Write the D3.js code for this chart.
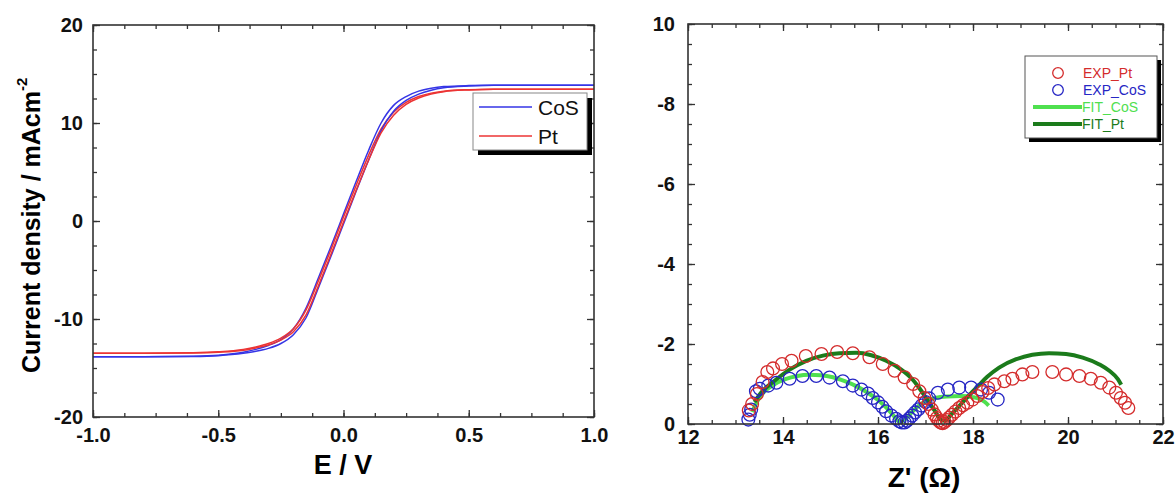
<!DOCTYPE html>
<html>
<head>
<meta charset="utf-8">
<script src="https://cdn.jsdelivr.net/npm/d3@7"></script>
<style>
body { margin: 0; background: #fff; }
svg { display: block; font-family: "Liberation Sans", Arial, sans-serif; }
.tk text { font-size: 20px; font-weight: bold; fill: #111; }
.tk path { display: none; }
.tk line { stroke: #333; stroke-width: 1.3; }
</style>
</head>
<body>
<svg id="chart" width="1176" height="495"></svg>
<script>
// ---- left panel: current density vs potential ----
const ePts = [-1.0, -0.8, -0.6, -0.5, -0.4, -0.35, -0.3, -0.25, -0.2, -0.15, -0.1, -0.05, 0, 0.05, 0.1, 0.15, 0.2, 0.25, 0.3, 0.35, 0.4, 0.5, 0.6, 0.8, 1.0]
const cosA = [-13.85, -13.85, -13.8, -13.7, -13.4, -13.1, -12.7, -12.1, -11.0, -8.9, -5.8, -2.6, 0.7, 4.0, 7.2, 10.0, 11.8, 12.7, 13.25, 13.55, 13.72, 13.82, 13.85, 13.85, 13.85]
const cosB = [-13.85, -13.85, -13.82, -13.74, -13.5, -13.3, -13.0, -12.5, -11.6, -9.9, -6.8, -3.6, -0.3, 3.0, 6.2, 9.2, 11.2, 12.3, 12.95, 13.35, 13.6, 13.78, 13.85, 13.85, 13.85]
const ptA = [-13.5, -13.5, -13.45, -13.35, -13.1, -12.85, -12.5, -11.95, -11.0, -9.1, -6.1, -2.9, 0.4, 3.6, 6.7, 9.4, 11.1, 12.1, 12.7, 13.05, 13.25, 13.4, 13.45, 13.45, 13.45]
const ptB = [-13.5, -13.5, -13.47, -13.4, -13.2, -12.95, -12.65, -12.15, -11.3, -9.6, -6.6, -3.4, -0.1, 3.1, 6.2, 9.0, 10.8, 11.9, 12.55, 12.95, 13.2, 13.38, 13.45, 13.45, 13.45]
const eMajor = [-1.0, -0.5, 0, 0.5, 1.0]
const jMajor = [-20, -10, 0, 10, 20]

// ---- right panel: Nyquist plot [Z', -Z''] ----
const expPt = [[13.28,0.34],[13.35,0.50],[13.45,0.75],[13.57,1.05],[13.67,1.30],[13.79,1.39],[13.98,1.50],[14.18,1.58],[14.48,1.70],[14.81,1.75],[15.14,1.80],[15.47,1.77],[15.82,1.67],[16.10,1.50],[16.35,1.33],[16.56,1.17],[16.74,1.00],[16.87,0.82],[16.98,0.65],[17.06,0.50],[17.13,0.36],[17.19,0.24],[17.24,0.15],[17.28,0.08],[17.32,0.04],[17.36,0.02],[17.40,0.05],[17.45,0.10],[17.50,0.16],[17.56,0.23],[17.63,0.31],[17.71,0.40],[17.79,0.47],[17.88,0.53],[17.99,0.61],[18.09,0.70],[18.20,0.80],[18.32,0.90],[18.45,0.99],[18.66,1.07],[18.83,1.13],[19.04,1.24],[19.25,1.30],[19.67,1.30],[19.96,1.24],[20.24,1.20],[20.48,1.13],[20.69,1.03],[20.87,0.91],[21.01,0.78],[21.11,0.65],[21.20,0.53],[21.27,0.40]]
const expCoS = [[13.27,0.11],[13.30,0.23],[13.33,0.36],[13.43,0.82],[13.51,0.88],[13.69,0.96],[13.86,1.03],[14.14,1.13],[14.41,1.20],[14.70,1.20],[14.98,1.16],[15.26,1.07],[15.47,0.96],[15.65,0.86],[15.79,0.76],[15.89,0.65],[16.00,0.54],[16.09,0.43],[16.17,0.32],[16.28,0.21],[16.38,0.13],[16.45,0.07],[16.50,0.04],[16.56,0.04],[16.61,0.08],[16.66,0.14],[16.72,0.21],[16.78,0.29],[16.85,0.37],[16.92,0.46],[17.00,0.55],[17.08,0.64],[17.26,0.78],[17.47,0.86],[17.71,0.91],[17.96,0.91],[18.17,0.86],[18.34,0.78],[18.52,0.61]]
const fitCoS = [[13.35,0.30],[13.45,0.55],[13.60,0.80],[13.80,0.98],[14.05,1.12],[14.30,1.20],[14.55,1.23],[14.80,1.22],[15.05,1.17],[15.30,1.07],[15.55,0.94],[15.80,0.77],[16.00,0.60],[16.20,0.38],[16.35,0.18],[16.45,0.06],[16.55,0.10],[16.70,0.28],[16.85,0.45],[17.00,0.57],[17.20,0.65],[17.45,0.69],[17.75,0.70],[18.00,0.67],[18.15,0.62],[18.25,0.55],[18.33,0.46]]
const fitPt = [[13.40,0.55],[13.55,0.80],[13.79,1.05],[14.14,1.36],[14.49,1.58],[14.84,1.71],[15.19,1.77],[15.54,1.78],[15.86,1.72],[16.17,1.58],[16.49,1.36],[16.70,1.15],[16.87,0.90],[17.05,0.58],[17.20,0.32],[17.33,0.10],[17.40,0.08],[17.55,0.25],[17.75,0.50],[17.95,0.76],[18.13,0.98],[18.30,1.18],[18.55,1.41],[18.91,1.62],[19.25,1.73],[19.60,1.77],[19.96,1.75],[20.31,1.66],[20.66,1.49],[20.87,1.33],[21.05,1.12],[21.12,0.98]]
const zMajor = [12, 14, 16, 18, 20, 22]
const zImMajor = [0, 2, 4, 6, 8, 10]

const svg = d3.select("#chart")

const blue = "#3535e6", red = "#ec3434"
const circRed = "#d42c2c", circBlue = "#2626c4"
const lime = "#4fe04f", darkGreen = "#1b7b1b"

function range(a, b, s) {
	const out = []
	for (let v = a; v <= b + 1e-9; v += s) out.push(+v.toFixed(4))
	return out
}

// frame with inward ticks on all four sides
function frame(x, y, xMaj, xMin, yMaj, yMin, fx, fy, padX, padY) {
	const [x0, x1] = x.range(), [y0, y1] = y.range()
	const g = svg.append("g")
	const ax = (axis, tr) => g.append("g").attr("class", "tk").attr("transform", tr).call(axis)
	ax(d3.axisBottom(x).tickValues(xMin).tickSize(-4).tickFormat(""), `translate(0,${y0})`)
	ax(d3.axisTop(x).tickValues(xMin).tickSize(-4).tickFormat(""), `translate(0,${y1})`)
	ax(d3.axisLeft(y).tickValues(yMin).tickSize(-4).tickFormat(""), `translate(${x0},0)`)
	ax(d3.axisRight(y).tickValues(yMin).tickSize(-4).tickFormat(""), `translate(${x1},0)`)
	ax(d3.axisBottom(x).tickValues(xMaj).tickSize(-7).tickPadding(padX).tickFormat(fx), `translate(0,${y0})`)
	ax(d3.axisTop(x).tickValues(xMaj).tickSize(-7).tickFormat(""), `translate(0,${y1})`)
	ax(d3.axisLeft(y).tickValues(yMaj).tickSize(-7).tickPadding(padY).tickFormat(fy), `translate(${x0},0)`)
	ax(d3.axisRight(y).tickValues(yMaj).tickSize(-7).tickFormat(""), `translate(${x1},0)`)
	g.append("rect")
		.attr("x", x0).attr("y", y1)
		.attr("width", x1 - x0).attr("height", y0 - y1)
		.attr("fill", "none").attr("stroke", "#333").attr("stroke-width", 1.6)
}

// ---------- left ----------
let xL = d3.scaleLinear().domain([-1, 1]).range([93, 594])
let yL = d3.scaleLinear().domain([-20, 20]).range([417, 25])

let lineL = vals => d3.line()
	.x((d, i) => xL(ePts[i]))
	.y(d => yL(d))
	.curve(d3.curveMonotoneX)(vals)

const leftSeries = [[cosA, blue], [ptA, red], [cosB, blue], [ptB, red]]
leftSeries.forEach(s => {
	svg.append("path")
		.attr("d", lineL(s[0]))
		.attr("fill", "none")
		.attr("stroke", s[1])
		.attr("stroke-width", 1.5)
})

frame(xL, yL, eMajor, range(-1, 1, 0.125), jMajor, range(-20, 20, 2.5),
	d => d.toFixed(1), d => String(d), 11, 10)

svg.append("text")
	.attr("x", 343).attr("y", 474)
	.attr("text-anchor", "middle")
	.attr("font-size", 27).attr("font-weight", "bold")
	.text("E / V")

let yTitle = svg.append("text")
	.attr("transform", "translate(40,373) rotate(-90)")
	.attr("font-size", 25).attr("font-weight", "bold")
yTitle.append("tspan").text("Current density / mAcm")
yTitle.append("tspan").attr("dy", -13).attr("font-size", 15).text("-2")

// legend left
svg.append("rect").attr("x", 478).attr("y", 98).attr("width", 114).attr("height", 57).attr("fill", "#000")
svg.append("rect").attr("x", 473).attr("y", 93).attr("width", 114).attr("height", 57)
	.attr("fill", "#fff").attr("stroke", "#888").attr("stroke-width", 1)
;[["CoS", blue, 107], ["Pt", red, 136]].forEach(l => {
	svg.append("line").attr("x1", 479).attr("x2", 532).attr("y1", l[2]).attr("y2", l[2])
		.attr("stroke", l[1]).attr("stroke-width", 1.5)
	svg.append("text").attr("x", 538).attr("y", l[2] + 8)
		.attr("font-size", 21).attr("fill", "#111").text(l[0])
})

// ---------- right ----------
let xR = d3.scaleLinear().domain([12, 22]).range([688, 1163])
let yR = d3.scaleLinear().domain([0, 10]).range([424, 24])

let lineR = d3.line().x(d => xR(d[0])).y(d => yR(d[1])).curve(d3.curveMonotoneX)

svg.append("path").attr("d", lineR(fitCoS)).attr("fill", "none")
	.attr("stroke", lime).attr("stroke-width", 4)
svg.append("path").attr("d", lineR(fitPt)).attr("fill", "none")
	.attr("stroke", darkGreen).attr("stroke-width", 4)

;[[expCoS, circBlue], [expPt, circRed]].forEach(s => {
	svg.append("g").selectAll("circle")
		.data(s[0]).join("circle")
		.attr("cx", d => xR(d[0]))
		.attr("cy", d => yR(d[1]))
		.attr("r", 6.4)
		.attr("fill", "none")
		.attr("stroke", s[1])
		.attr("stroke-width", 1.3)
})

frame(xR, yR, zMajor, range(12, 22, 0.5), zImMajor, range(0, 10, 0.5),
	d => String(d), d => (d === 0 || d === 10) ? String(d) : "-" + d, 6, 13)

svg.append("text")
	.attr("x", 924).attr("y", 487)
	.attr("text-anchor", "middle")
	.attr("font-size", 28).attr("font-weight", "bold")
	.text("Z' (\u03A9)")

// legend right
svg.append("rect").attr("x", 1029).attr("y", 60).attr("width", 132).attr("height", 82).attr("fill", "#000")
svg.append("rect").attr("x", 1025).attr("y", 56).attr("width", 132).attr("height", 82)
	.attr("fill", "#fff").attr("stroke", "#555").attr("stroke-width", 1)

const legR = [
	["EXP_Pt", circRed, 73, "circle"],
	["EXP_CoS", circBlue, 90, "circle"],
	["FIT_CoS", lime, 107, "line"],
	["FIT_Pt", darkGreen, 124, "line"]
]
legR.forEach(l => {
	if (l[3] === "circle") {
		svg.append("circle").attr("cx", 1058).attr("cy", l[2]).attr("r", 5.3)
			.attr("fill", "none").attr("stroke", l[1]).attr("stroke-width", 1.3)
		svg.append("text").attr("x", 1083).attr("y", l[2] + 5)
			.attr("font-size", 14).attr("fill", l[1]).text(l[0])
	} else {
		svg.append("line").attr("x1", 1033).attr("x2", 1082).attr("y1", l[2]).attr("y2", l[2])
			.attr("stroke", l[1]).attr("stroke-width", 4)
		svg.append("text").attr("x", 1082).attr("y", l[2] + 5)
			.attr("font-size", 14).attr("fill", l[1]).text(l[0])
	}
})
</script>
</body>
</html>
